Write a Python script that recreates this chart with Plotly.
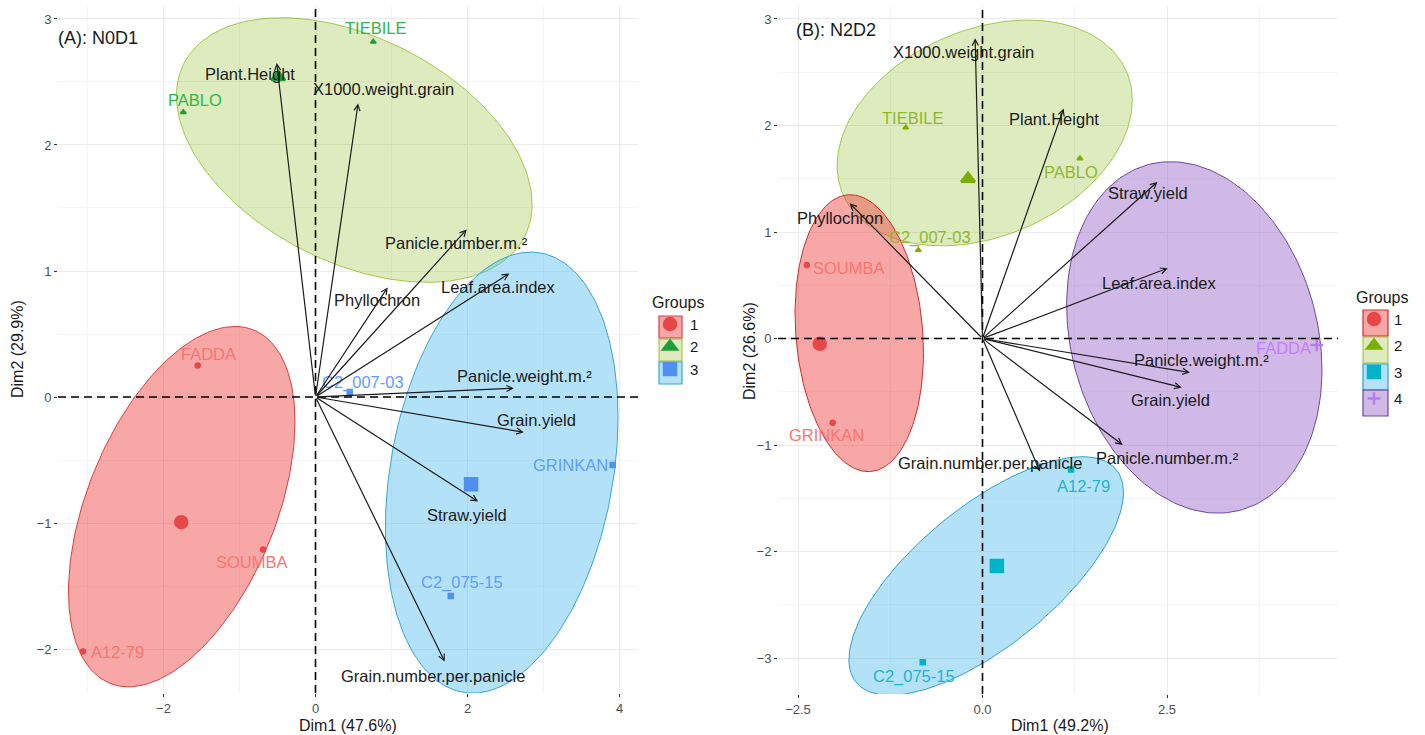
import numpy as np
import plotly.graph_objects as go

FONT = "Liberation Sans, Arial, sans-serif"

# ---------------- (A): N0D1 ----------------
a_ind_names = ["FADDA", "SOUMBA", "A12-79", "TIEBILE", "PABLO", "C2_007-03", "GRINKAN", "C2_075-15"]
a_ind_group = [1, 1, 1, 2, 2, 3, 3, 3]
a_ind_dim1 = [-1.55, -0.69, -3.06, 0.76, -1.74, 0.45, 3.91, 1.78]
a_ind_dim2 = [0.25, -1.21, -2.02, 2.82, 2.26, 0.04, -0.54, -1.58]

a_var_names = ["Plant.Height", "X1000.weight.grain", "Panicle.number.m.²", "Phyllochron",
               "Leaf.area.index", "Panicle.weight.m.²", "Grain.yield", "Straw.yield",
               "Grain.number.per.panicle"]
a_var_dim1 = [-0.51, 0.56, 1.99, 0.95, 2.55, 2.61, 2.74, 2.14, 1.70]
a_var_dim2 = [2.65, 2.33, 1.33, 0.87, 0.98, 0.07, -0.28, -0.83, -2.10]

# concentration ellipses: centre, half-width, half-height, tilt coefficient
a_ell_group = [1, 2, 3]
a_ell_cx = [-1.76, 0.51, 2.45]
a_ell_cy = [-0.87, 1.96, -0.60]
a_ell_hw = [1.49, 2.34, 1.53]
a_ell_hh = [1.43, 1.05, 1.75]
a_ell_r = [0.47, -0.41, 0.25]

# ---------------- (B): N2D2 ----------------
b_ind_names = ["SOUMBA", "GRINKAN", "TIEBILE", "PABLO", "C2_007-03", "A12-79", "C2_075-15", "FADDA"]
b_ind_group = [1, 1, 2, 2, 2, 3, 3, 4]
b_ind_dim1 = [-2.38, -2.03, -1.04, 1.32, -0.87, 1.20, -0.81, 4.53]
b_ind_dim2 = [0.69, -0.79, 1.98, 1.69, 0.83, -1.23, -3.04, -0.06]

b_var_names = ["X1000.weight.grain", "Plant.Height", "Straw.yield", "Leaf.area.index",
               "Panicle.weight.m.²", "Grain.yield", "Panicle.number.m.²",
               "Grain.number.per.panicle", "Phyllochron"]
b_var_dim1 = [-0.10, 1.10, 2.37, 2.51, 2.81, 2.70, 1.90, 0.78, -1.80]
b_var_dim2 = [2.82, 2.16, 1.47, 0.66, -0.32, -0.46, -1.00, -1.25, 1.27]

b_ell_group = [4, 2, 1, 3]
b_ell_cx = [2.87, 0.03, -1.67, 0.05]
b_ell_cy = [0.01, 1.93, 0.05, -2.23]
b_ell_hw = [1.73, 2.00, 0.87, 1.86]
b_ell_hh = [1.65, 1.06, 1.30, 1.12]
b_ell_r = [-0.185, 0.29, -0.14, 0.70]

# ---------------- styling ----------------
A_STYLE = {
    1: dict(text="#F8766D", mark="#E8474A", fill="rgba(240,60,60,0.45)", line="#E03C3C", symbol="circle", mean_size=12),
    2: dict(text="#2DB84A", mark="#1E9E3A", fill="rgba(124,174,0,0.25)", line="rgba(124,174,0,0.65)", symbol="triangle-up", mean_size=12),
    3: dict(text="#619CFF", mark="#4F8FF0", fill="rgba(86,190,240,0.45)", line="#3AA3D6", symbol="square", mean_size=12),
}
B_STYLE = {
    1: dict(text="#F8766D", mark="#E8474A", fill="rgba(240,60,60,0.45)", line="#D42A2A", symbol="circle", mean_size=12),
    2: dict(text="#8DB92E", mark="#7CAE00", fill="rgba(124,174,0,0.25)", line="rgba(124,174,0,0.65)", symbol="triangle-up", mean_size=12),
    3: dict(text="#1FB3D0", mark="#00B4C8", fill="rgba(86,190,240,0.45)", line="#2E9FCF", symbol="square", mean_size=12),
    4: dict(text="#C77CFF", mark="#B77CF0", fill="rgba(150,100,200,0.45)", line="#6A4A9A", symbol="cross-thin-open", mean_size=9),
}

LABEL_SIZE = 16.5

# label offsets (pixels) relative to their point / arrow tip
A_IND_SHIFT = {"FADDA": (11, 12), "SOUMBA": (-11, -13), "A12-79": (35, 0), "TIEBILE": (2, 14),
               "PABLO": (12, 12), "C2_007-03": (13, 9), "GRINKAN": (-42, 0), "C2_075-15": (11, 14)}
A_VAR_SHIFT = {"Plant.Height": (-27, -11), "X1000.weight.grain": (25, 14), "Panicle.number.m.²": (-10, -14),
               "Phyllochron": (-11, -13), "Leaf.area.index": (-11, -13), "Panicle.weight.m.²": (11, 12),
               "Grain.yield": (13, 12), "Straw.yield": (-11, -13), "Grain.number.per.panicle": (-12, -14)}
B_IND_SHIFT = {"SOUMBA": (42, -3), "GRINKAN": (-6, -12), "TIEBILE": (7, 10), "PABLO": (-9, -13),
               "C2_007-03": (12, 13), "A12-79": (12, -17), "C2_075-15": (-9, -14), "FADDA": (-33, -3)}
B_VAR_SHIFT = {"X1000.weight.grain": (-12, -14), "Plant.Height": (-10, -11), "Straw.yield": (-9, -11),
               "Leaf.area.index": (-8, -15), "Panicle.weight.m.²": (12, 13), "Grain.yield": (-11, -13),
               "Panicle.number.m.²": (45, -13), "Grain.number.per.panicle": (-50, 9), "Phyllochron": (-10, -15)}

W, H = 1425, 735


def ellipse_xy(cx, cy, hw, hh, r, n=240):
    t = np.linspace(0, 2 * np.pi, n)
    s = np.sqrt(1 - r * r)
    return cx + hw * np.cos(t), cy + hh * (r * np.cos(t) + s * np.sin(t))


fig = go.Figure()
annotations = []


def add_panel(xa, ya, legend, names, groups, d1, d2, vnames, v1, v2,
              egrp, ecx, ecy, ehw, ehh, er, style, ind_shift, var_shift):
    xr, yr = xa.replace("axis", ""), ya.replace("axis", "")
    # ellipses
    for g, cx, cy, hw, hh, r in zip(egrp, ecx, ecy, ehw, ehh, er):
        ex, ey = ellipse_xy(cx, cy, hw, hh, r)
        fig.add_trace(go.Scatter(x=ex, y=ey, mode="lines", fill="toself",
                                 fillcolor=style[g]["fill"], line=dict(color=style[g]["line"], width=1),
                                 hoverinfo="skip", showlegend=False, xaxis=xr, yaxis=yr))
    # individuals
    gs = np.array(groups)
    x1, y1 = np.array(d1), np.array(d2)
    for g in sorted(set(groups)):
        m = gs == g
        fig.add_trace(go.Scatter(x=x1[m], y=y1[m], mode="markers",
                                 marker=dict(symbol=style[g]["symbol"], size=5, color=style[g]["mark"],
                                             line=dict(color=style[g]["mark"], width=1.5)),
                                 showlegend=False, hoverinfo="skip", xaxis=xr, yaxis=yr))
    # group means
    for g in sorted(set(groups)):
        m = gs == g
        fig.add_trace(go.Scatter(x=[x1[m].mean()], y=[y1[m].mean()], mode="markers", name=str(g),
                                 legendgroup=f"{legend}{g}", legend=legend,
                                 marker=dict(symbol=style[g]["symbol"], size=style[g]["mean_size"],
                                             color=style[g]["mark"],
                                             line=dict(color=style[g]["mark"], width=2.5)),
                                 xaxis=xr, yaxis=yr))
    # individual labels
    for n, g, x, y in zip(names, groups, d1, d2):
        dx, dy = ind_shift[n]
        annotations.append(dict(x=x, y=y, xref=xr, yref=yr, text=n, showarrow=False,
                                xshift=dx, yshift=dy, xanchor="center", yanchor="middle",
                                font=dict(family=FONT, size=LABEL_SIZE, color=style[g]["text"])))
    # variable arrows
    for n, x, y in zip(vnames, v1, v2):
        annotations.append(dict(x=x, y=y, ax=0, ay=0, xref=xr, yref=yr, axref=xr, ayref=yr,
                                text="", showarrow=True, arrowhead=5, arrowsize=1, arrowwidth=1.2,
                                arrowcolor="#1a1a1a", standoff=0, startstandoff=0))
    for n, x, y in zip(vnames, v1, v2):
        dx, dy = var_shift[n]
        annotations.append(dict(x=x, y=y, xref=xr, yref=yr, text=n, showarrow=False,
                                xshift=dx, yshift=dy, xanchor="center", yanchor="middle",
                                font=dict(family=FONT, size=LABEL_SIZE, color="#1a1a1a")))


add_panel("xaxis", "yaxis", "legend", a_ind_names, a_ind_group, a_ind_dim1, a_ind_dim2,
          a_var_names, a_var_dim1, a_var_dim2,
          a_ell_group, a_ell_cx, a_ell_cy, a_ell_hw, a_ell_hh, a_ell_r, A_STYLE, A_IND_SHIFT, A_VAR_SHIFT)
add_panel("xaxis2", "yaxis2", "legend2", b_ind_names, b_ind_group, b_ind_dim1, b_ind_dim2,
          b_var_names, b_var_dim1, b_var_dim2,
          b_ell_group, b_ell_cx, b_ell_cy, b_ell_hw, b_ell_hh, b_ell_r, B_STYLE, B_IND_SHIFT, B_VAR_SHIFT)


def paper_text(px, py, text, size, angle=0):
    annotations.append(dict(x=px / W, y=1 - py / H, xref="paper", yref="paper", text=text,
                            showarrow=False, xanchor="center", yanchor="middle", textangle=angle,
                            font=dict(family=FONT, size=size, color="#1a1a1a")))


# panel tags
paper_text(98, 38, "(A): N0D1", 18)
paper_text(836, 30, "(B): N2D2", 18)
# axis titles
paper_text(348, 725, "Dim1 (47.6%)", 16)
paper_text(17, 349, "Dim2 (29.9%)", 16, -90)
paper_text(1060, 725, "Dim1 (49.2%)", 16)
paper_text(750, 351, "Dim2 (26.6%)", 16, -90)

# dashed reference lines through the origin
shapes = []
for xr, yr in (("x", "y"), ("x2", "y2")):
    shapes.append(dict(type="line", xref=xr, yref=f"{yr} domain", x0=0, x1=0, y0=0, y1=1,
                       line=dict(color="black", width=1.6, dash="8px,5px"), layer="above"))
    shapes.append(dict(type="line", xref=f"{xr} domain", yref=yr, x0=0, x1=1, y0=0, y1=0,
                       line=dict(color="black", width=1.6, dash="8px,5px"), layer="above"))


# legend key boxes
def key_boxes(x0, x1, centers, half, style, groups):
    for g, c in zip(groups, centers):
        shapes.append(dict(type="rect", xref="paper", yref="paper",
                           x0=x0 / W, x1=x1 / W, y0=1 - (c + half) / H, y1=1 - (c - half) / H,
                           fillcolor=style[g]["fill"], line=dict(color=style[g]["line"], width=1.2),
                           layer="above"))


key_boxes(659, 682, [327, 350, 373], 11, A_STYLE, [1, 2, 3])
key_boxes(1363, 1388, [323, 350, 377, 403], 13, B_STYLE, [1, 2, 3, 4])

axis_common = dict(showline=False, zeroline=False, gridcolor="#EBEBEB", gridwidth=1,
                   ticks="outside", ticklen=3, tickwidth=1, tickcolor="#333333",
                   tickfont=dict(family=FONT, size=13, color="#4D4D4D"), automargin=False)

fig.update_layout(
    width=W, height=H, margin=dict(l=0, r=0, t=0, b=0),
    paper_bgcolor="white", plot_bgcolor="white",
    font=dict(family=FONT),
    xaxis=dict(domain=[58 / W, 638 / W], range=[-3.388, 4.243], dtick=2, tick0=0,
               minor=dict(dtick=1, tick0=0, showgrid=True, gridcolor="#F4F4F4"),
               anchor="y", **axis_common),
    yaxis=dict(domain=[1 - 693 / H, 1 - 6 / H], range=[-2.349, 3.103], dtick=1, tick0=0,
               minor=dict(dtick=0.5, tick0=0, showgrid=True, gridcolor="#F4F4F4"),
               anchor="x", **axis_common),
    xaxis2=dict(domain=[778 / W, 1338 / W], range=[-2.771, 4.817], dtick=2.5, tick0=0, tickformat=".1f",
                minor=dict(dtick=1.25, tick0=0, showgrid=True, gridcolor="#F4F4F4"),
                anchor="y2", **axis_common),
    yaxis2=dict(domain=[1 - 694 / H, 1 - 6 / H], range=[-3.338, 3.122], dtick=1, tick0=0,
                minor=dict(dtick=0.5, tick0=0, showgrid=True, gridcolor="#F4F4F4"),
                anchor="x2", **axis_common),
    legend=dict(x=650 / W, y=1 - 287 / H, xanchor="left", yanchor="top",
                title=dict(text="Groups", font=dict(family=FONT, size=16, color="#1a1a1a")),
                font=dict(family=FONT, size=15, color="#1a1a1a"), traceorder="grouped",
                tracegroupgap=0, bgcolor="rgba(0,0,0,0)", itemclick=False),
    legend2=dict(x=1354 / W, y=1 - 282 / H, xanchor="left", yanchor="top",
                 title=dict(text="Groups", font=dict(family=FONT, size=16, color="#1a1a1a")),
                 font=dict(family=FONT, size=15, color="#1a1a1a"), traceorder="grouped",
                 tracegroupgap=4, bgcolor="rgba(0,0,0,0)", itemclick=False),
    annotations=annotations,
    shapes=shapes,
)

fig.write_html("out.html")
